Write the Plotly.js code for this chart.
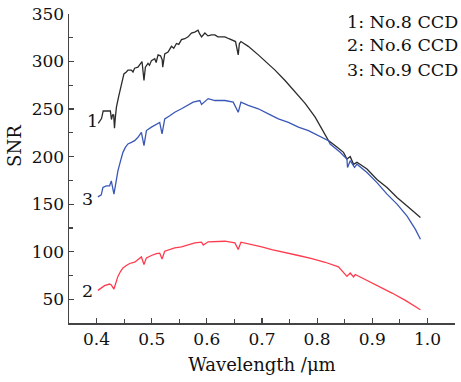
<!DOCTYPE html>
<html>
<head>
<meta charset="utf-8">
<script src="https://cdn.plot.ly/plotly-3.0.1.min.js"></script>
<style>html,body{margin:0;padding:0;background:#fff;}#chart{width:461px;height:382px;}</style>
</head>
<body>
<div id="chart"></div>
<script>
// Curve 1: No.8 CCD (black)
const wl1 = [0.403,0.409,0.412,0.425,0.427,0.429,0.431,0.4325,0.434,0.436,0.440,0.4436,0.4467,0.4496,0.454,0.457,0.4631,0.466,0.469,0.475,0.4824,0.486,0.4885,0.4933,0.496,0.4995,0.5055,0.508,0.5115,0.516,0.519,0.520,0.5236,0.5296,0.5358,0.540,0.5449,0.549,0.554,0.560,0.566,0.572,0.578,0.584,0.587,0.5904,0.5964,0.602,0.6085,0.6145,0.620,0.6327,0.640,0.6478,0.652,0.6569,0.659,0.6618,0.6751,0.6933,0.7115,0.7236,0.7418,0.760,0.7782,0.7964,0.8115,0.8205,0.8358,0.8478,0.854,0.860,0.866,0.8722,0.8904,0.9085,0.9267,0.9449,0.9631,0.9873];
const snr1 = [235,240,248,248,239,244,244,230,241,252,263,273,280,287,289,291,291,289,293,294,300,280,294,298,296,301,303,299,307,306,302,294,308,310,316,314,319,318,323,324,326,330,331,333,329,326,330,327,328,328,326,326,324,322,321,307,319,321,316,307,298,291,280,268,256,241.5,227,217,210,204.5,197.5,200,192,194,187,176,167.5,157,148,136];
// Curve 3: No.9 CCD (blue)
const wl3 = [0.4024,0.4085,0.4115,0.4176,0.4236,0.4267,0.4315,0.4358,0.4387,0.4436,0.4478,0.4522,0.4569,0.4631,0.4691,0.4751,0.4813,0.486,0.4904,0.4995,0.5085,0.5145,0.5187,0.5236,0.5327,0.5418,0.554,0.566,0.5751,0.5873,0.5904,0.6024,0.6115,0.6145,0.6327,0.6478,0.6569,0.6618,0.6751,0.6933,0.7115,0.7297,0.7478,0.766,0.7842,0.8024,0.8205,0.8236,0.8418,0.854,0.8551,0.86,0.8678,0.8722,0.8904,0.9085,0.9267,0.9449,0.9631,0.9782,0.9873];
const snr3 = [157.6,159.7,167.5,169.3,169.3,174.5,160.5,174.5,185,195.7,204.5,209.7,213.3,215,216.8,220.3,225.6,211.5,227.4,231,234.5,236,224,239.7,243,246.7,250.3,253.8,257.3,259,254.9,261,259.5,259,259,257.3,246.7,257.3,253.8,250.3,245,239.7,236,231,227.4,222,216.8,213.3,204.5,197.5,188.6,195.7,188.6,192,183.3,172.7,160.5,150,137.5,123.5,113];
// Curve 2: No.6 CCD (red)
const wl2 = [0.4024,0.4085,0.4145,0.4236,0.4267,0.4315,0.4358,0.4387,0.4436,0.4478,0.454,0.46,0.4691,0.4751,0.4813,0.486,0.4904,0.4995,0.5085,0.5145,0.5187,0.5236,0.5327,0.5418,0.554,0.566,0.5782,0.5904,0.5935,0.6024,0.6115,0.6145,0.62,0.6327,0.6509,0.6569,0.6618,0.6813,0.6995,0.7176,0.7418,0.766,0.7904,0.8145,0.8387,0.854,0.86,0.866,0.8691,0.8873,0.9115,0.9358,0.96,0.9873];
const snr2 = [59.3,61.8,64.3,66,65,60.7,68.8,74,79.4,83,85.4,87.6,89,91.8,94.5,86.5,93.5,96,98,98.5,92.4,100.5,102.3,104,105,106.9,109.3,110,107,110.4,110.4,111,110.5,111,109.3,102.3,110,107.6,105,102.3,99.5,96,92.8,88.9,84,74,77.6,73.4,76,70.6,64.3,56.5,48.8,39];

const legendLines = ["1: No.8 CCD","2: No.6 CCD","3: No.9 CCD"];
const curveLabels = ["1","2","3"];
const xTitle = "Wavelength /μm";
const yTitle = "SNR";

const FONT = "DejaVu Serif";
const TXT = {family: FONT, size: 17.5, color: "#111"};
const traces = [
  {x: wl1, y: snr1, mode: "lines", line: {color: "#2b2b2b", width: 1.3}},
  {x: wl3, y: snr3, mode: "lines", line: {color: "#3a57b8", width: 1.3}},
  {x: wl2, y: snr2, mode: "lines", line: {color: "#ff3b4e", width: 1.3}}
];

const axisCommon = {
  showgrid: false, zeroline: false, showline: true, linecolor: "#444", linewidth: 1.5,
  ticks: "inside", ticklen: 5, tickwidth: 1.2, tickcolor: "#444",
  tickfont: {family: FONT, size: 17, color: "#111"}, mirror: false
};

const layout = {
  width: 461, height: 382,
  margin: {l: 69, r: 6, t: 14, b: 59},
  paper_bgcolor: "#fff", plot_bgcolor: "#fff",
  showlegend: false,
  xaxis: Object.assign({}, axisCommon, {
    range: [0.35, 1.05], tickvals: [0.4,0.5,0.6,0.7,0.8,0.9,1.0],
    ticktext: ["0.4","0.5","0.6","0.7","0.8","0.9","1.0"],
    minor: {tickvals: [0.35,0.45,0.55,0.65,0.75,0.85,0.95,1.05], ticks: "inside", ticklen: 4, tickcolor: "#444", tickwidth: 1.2},
    title: {text: xTitle, font: {family: FONT, size: 18, color: "#111"}, standoff: 10}
  }),
  yaxis: Object.assign({}, axisCommon, {
    range: [25, 350], tickvals: [50,100,150,200,250,300,350],
    minor: {tickvals: [25,75,125,175,225,275,325], ticks: "inside", ticklen: 4, tickcolor: "#444", tickwidth: 1.2}
  }),
  annotations: [
    {xref: "paper", yref: "paper", x: -0.14, y: 0.573, textangle: -90, xanchor: "center", yanchor: "middle", text: yTitle, showarrow: false, font: {family: FONT, size: 18, color: "#111"}},
    {xref: "paper", yref: "paper", x: 0.715, y: 0.974, xanchor: "left", yanchor: "middle", text: legendLines[0], showarrow: false, font: TXT},
    {xref: "paper", yref: "paper", x: 0.715, y: 0.900, xanchor: "left", yanchor: "middle", text: legendLines[1], showarrow: false, font: TXT},
    {xref: "paper", yref: "paper", x: 0.715, y: 0.819, xanchor: "left", yanchor: "middle", text: legendLines[2], showarrow: false, font: TXT},
    {xref: "x", yref: "y", x: 0.3927, y: 237, text: curveLabels[0], showarrow: false, font: TXT},
    {xref: "x", yref: "y", x: 0.3836, y: 58.3, text: curveLabels[1], showarrow: false, font: TXT},
    {xref: "x", yref: "y", x: 0.3836, y: 155.5, text: curveLabels[2], showarrow: false, font: TXT}
  ]
};

Plotly.newPlot("chart", traces, layout, {staticPlot: true, displayModeBar: false});
</script>
</body>
</html>
